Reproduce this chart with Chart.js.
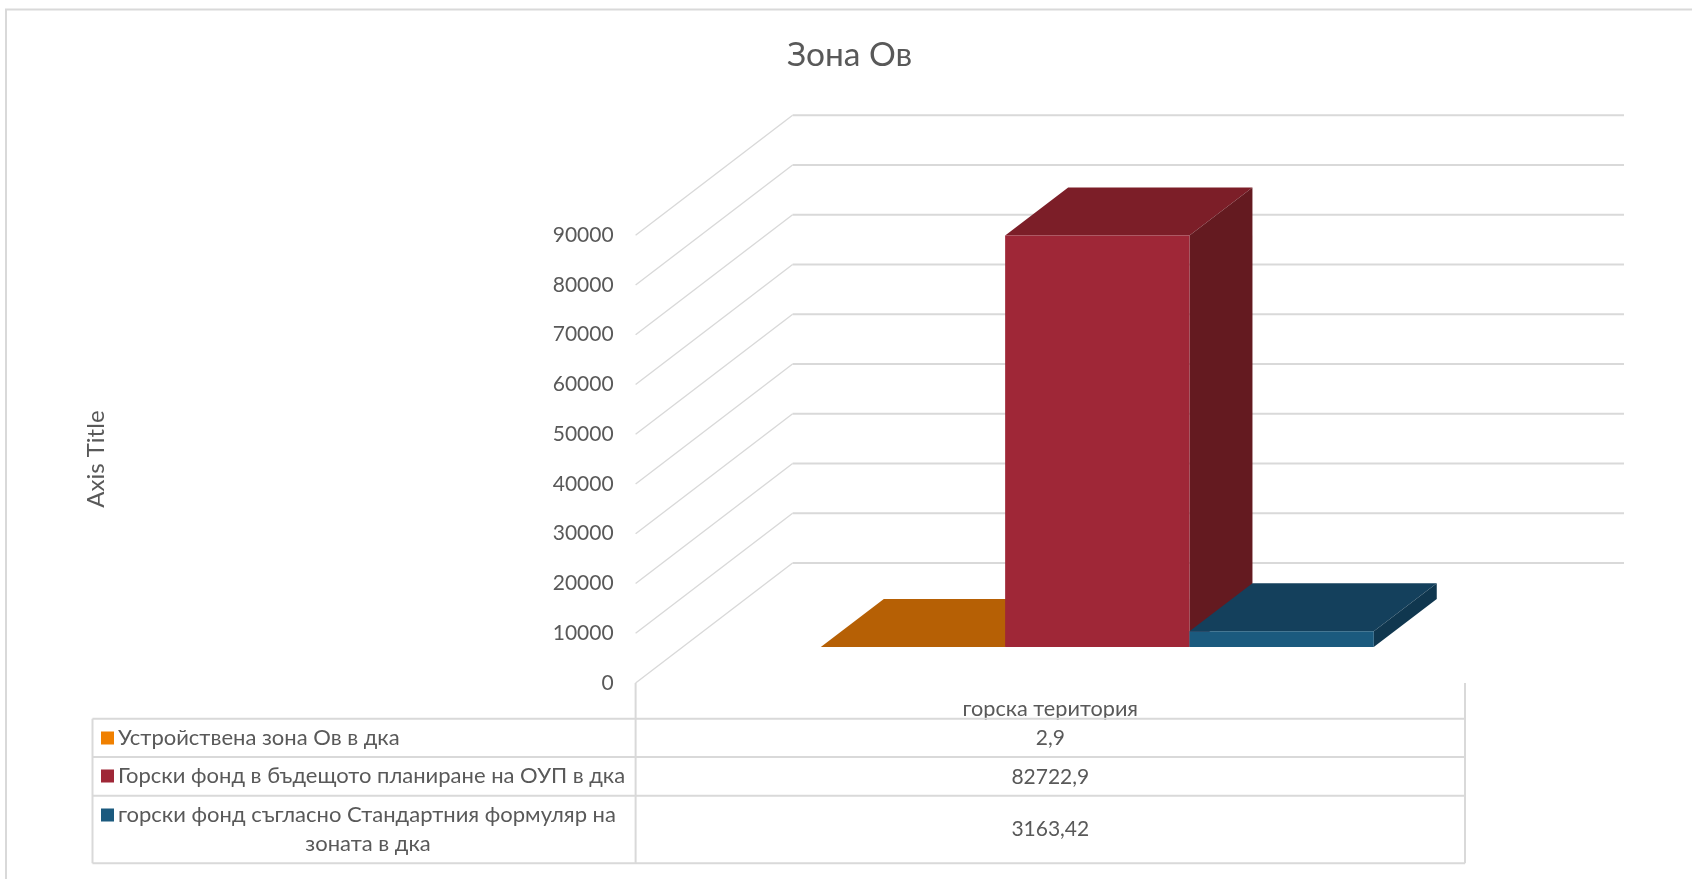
<!DOCTYPE html>
<html><head><meta charset="utf-8">
<style>html,body{margin:0;padding:0;background:#fff}canvas{display:block}</style>
<script src="https://cdn.jsdelivr.net/npm/chart.js@4/dist/chart.umd.min.js"></script>
</head><body><canvas id="c" width="1692" height="879"></canvas>
<script>
const categories = ['горска територия'];
const seriesNames = ['Устройствена зона Ов в дка','Горски фонд в бъдещото планиране на ОУП в дка','горски фонд съгласно Стандартния формуляр на зоната в дка'];
const orangeValues = [2.9];
const redValues = [82722.9];
const blueValues = [3163.42];
const yTicks = [0,10000,20000,30000,40000,50000,60000,70000,80000,90000];
const frontColors = ['#F08000','#9F2737','#1B5A7E'];
const barFront = ['#C46A06','#9F2737','#1B5A7E'];
const barTop = ['#B66005','#7C1E28','#14405C'];
const barSide = ['#8E4B04','#641A20','#10374F'];
const FONT = 'Lato, "Noto Sans", sans-serif';
const GRID = '#D9D9D9', TEXT = '#595959';
const WALL = {dx:157, dy:120}, BAR_OFF = {dx:47, dy:36}, BAR_DEPTH = {dx:63, dy:48};

function poly(ctx, pts, fill){
  ctx.beginPath(); pts.forEach((p,i)=> i?ctx.lineTo(p[0],p[1]):ctx.moveTo(p[0],p[1])); ctx.closePath();
  ctx.fillStyle = fill; ctx.fill();
}
const threeD = {
  id:'threeD',
  beforeDraw(chart){
    const ctx = chart.ctx;
    ctx.save();
    ctx.strokeStyle = GRID; ctx.lineWidth = 2;
    ctx.beginPath(); ctx.moveTo(6,879); ctx.lineTo(6,9.5); ctx.lineTo(1692,9.5); ctx.stroke();
    ctx.restore();
  },
  beforeDatasetsDraw(chart){
    const ctx = chart.ctx, y = chart.scales.y, a = chart.chartArea;
    ctx.save();
    ctx.strokeStyle = GRID;
    yTicks.forEach(v=>{
      const py = y.getPixelForValue(v);
      ctx.lineWidth = 1.4;
      ctx.beginPath(); ctx.moveTo(a.left,py); ctx.lineTo(a.left+WALL.dx,py-WALL.dy); ctx.stroke();
      ctx.lineWidth = 2;
      ctx.beginPath(); ctx.moveTo(a.left+WALL.dx,py-WALL.dy); ctx.lineTo(a.right+WALL.dx+2,py-WALL.dy); ctx.stroke();
    });
    ctx.restore();
    [0,1,2].forEach(i=>{
      const meta = chart.getDatasetMeta(i);
      ctx.save();
      ctx.translate(BAR_OFF.dx,-BAR_OFF.dy);
      meta.data.forEach(b=>{
        const l=b.x-b.width/2, r=b.x+b.width/2, t=b.y, bt=b.base, dx=BAR_DEPTH.dx, dy=BAR_DEPTH.dy;
        poly(ctx,[[l,t],[r,t],[r+dx,t-dy],[l+dx,t-dy]],barTop[i]);
        poly(ctx,[[r,t],[r+dx,t-dy],[r+dx,bt-dy],[r,bt]],barSide[i]);
      });
      meta.controller.draw();
      ctx.restore();
    });
    return false;
  },
  afterDraw(chart){
    const ctx = chart.ctx, a = chart.chartArea;
    const rows = [718.7,757,795.7,863.3], L = 92.5;
    const values = [orangeValues[0],redValues[0],blueValues[0]].map(v=>String(v).replace('.',','));
    const cx = (a.left+a.right)/2;
    ctx.save();
    ctx.strokeStyle = GRID; ctx.lineWidth = 2;
    rows.forEach(r=>{ctx.beginPath();ctx.moveTo(L,r);ctx.lineTo(a.right,r);ctx.stroke();});
    [[L,rows[0]],[a.left,a.bottom],[a.right,a.bottom]].forEach(p=>{
      ctx.beginPath();ctx.moveTo(p[0],p[1]);ctx.lineTo(p[0],rows[3]);ctx.stroke();
    });
    ctx.textBaseline='middle';
    const keyY = [738,776,815];
    keyY.forEach((ky,i)=>{ ctx.fillStyle = frontColors[i]; ctx.fillRect(101,ky-6.5,13,13); });
    ctx.font = '22px '+FONT; ctx.fillStyle = TEXT; ctx.textAlign='left';
    ctx.fillText(seriesNames[0],118,738);
    ctx.fillText(seriesNames[1],118,776);
    ctx.fillText('горски фонд съгласно Стандартния формуляр на',118,815);
    ctx.textAlign='center';
    ctx.fillText('зоната в дка',368,844);
    ctx.font = '21px '+FONT;
    ctx.fillText(values[0],cx,738);
    ctx.fillText(values[1],cx,777);
    ctx.fillText(values[2],cx,829);
    ctx.restore();
  }
};
new Chart(document.getElementById('c'),{
  type:'bar',
  data:{labels:categories,datasets:[
    {label:seriesNames[0],data:orangeValues,backgroundColor:barFront[0]},
    {label:seriesNames[1],data:redValues,backgroundColor:barFront[1]},
    {label:seriesNames[2],data:blueValues,backgroundColor:barFront[2]}
  ]},
  options:{
    responsive:false,animation:false,
    layout:{padding:{left:7,right:0,top:0,bottom:0}},
    datasets:{bar:{barPercentage:1,categoryPercentage:0.6667,borderWidth:0}},
    plugins:{
      legend:{display:false},tooltip:{enabled:false},
      title:{display:true,text:'Зона Ов',color:TEXT,font:{family:FONT,size:33.5,weight:'normal'},padding:{top:35,bottom:160}}
    },
    scales:{
      x:{grid:{display:false},border:{display:false},
         ticks:{color:TEXT,font:{family:FONT,size:21.7},padding:4.5,maxRotation:0},
         afterFit(s){s.height=196;}},
      y:{min:0,max:90000,position:'left',grid:{display:false,drawTicks:false},border:{display:false},
         afterBuildTicks(s){s.ticks=yTicks.map(v=>({value:v}));},
         ticks:{color:TEXT,font:{family:FONT,size:21},padding:22,callback:v=>String(v)},
         title:{display:true,text:'Axis Title',color:TEXT,font:{family:FONT,size:24},padding:{top:74.6,bottom:0}},
         afterFit(s){s.width=628.6;}},
      spacer:{position:'right',min:0,max:1,grid:{display:false,drawTicks:false},border:{display:false},
         ticks:{display:false},afterFit(s){s.width=227;}}
    }
  },
  plugins:[threeD]
});
</script></body></html>
